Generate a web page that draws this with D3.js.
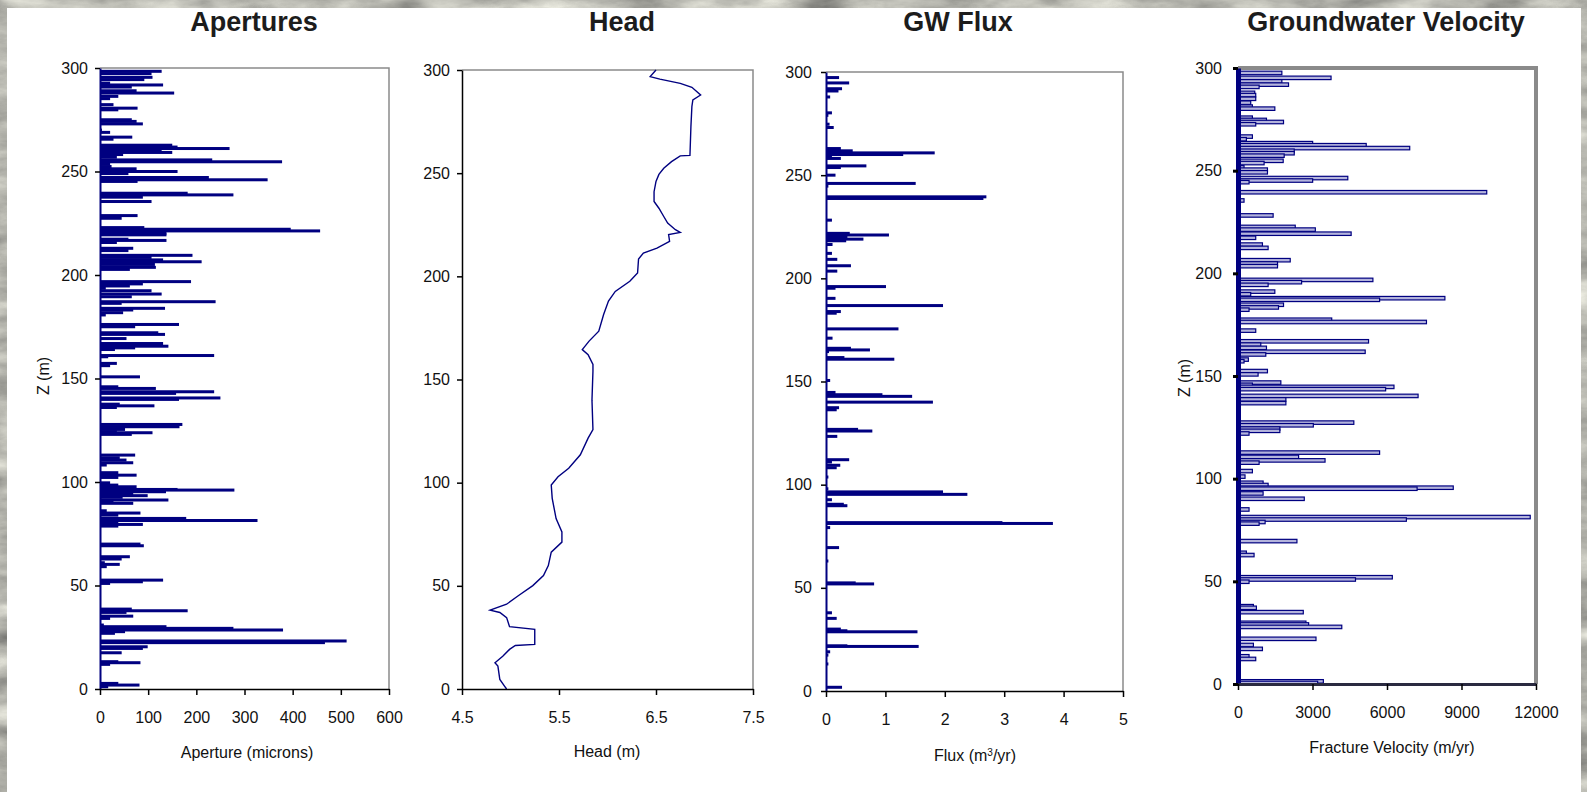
<!DOCTYPE html>
<html>
<head>
<meta charset="utf-8">
<script src="https://cdn.jsdelivr.net/npm/d3@7"></script>
<style>
  body { margin: 0; background: #b4b4ae; }
  svg { display: block; }
  text { font-family: Arial, 'Liberation Sans', sans-serif; }
</style>
</head>
<body>
<svg id="chart" width="1587" height="792"></svg>
<script>
// ---- data: [depth z (m), value] ----
const zTicks = [0, 50, 100, 150, 200, 250, 300];
const apertureTicks = [0, 100, 200, 300, 400, 500, 600];
const headTicks = [4.5, 5.5, 6.5, 7.5];
const fluxTicks = [0, 1, 2, 3, 4, 5];
const velocityTicks = [0, 3000, 6000, 9000, 12000];

const apertures = [
  [298.4,128],[297.3,107],[295.5,109],[294.4,92],[292.7,21],[291.8,131],[290.8,66],[289,76],[287.9,154],[286.3,38],
  [285.2,21],[282.3,28],[280.6,78],[279.8,38],[275,66],[274.2,76],[273,89],[270,4],[268.9,21],[266.6,67],
  [265.6,28],[262.7,150],[261.8,161],[261.1,269],[260.3,128],[259.2,150],[258.2,48],[256.9,35],[255.6,233],[254.7,378],
  [253.6,21],[252.4,24],[251.3,76],[250,161],[249,59],[247.1,226],[246,348],[245.2,78],[239.5,182],[238.7,277],
  [237.6,89],[235.5,107],[228.7,78],[227.4,45],[222.9,92],[222.1,396],[221.3,457],[220.2,138],[219.4,138],[217.3,59],
  [216.7,138],[215.7,35],[212.9,69],[211.8,59],[209.5,192],[208.5,107],[207.3,131],[206.4,211],[205.1,114],[203.7,116],
  [202.7,62],[196.8,189],[195.7,89],[194.7,62],[193.6,12],[192.4,107],[190.8,128],[189.5,66],[187.1,240],[186.3,45],
  [183.9,135],[183.1,69],[181.8,48],[180.7,12],[176.1,164],[175,73],[172.1,121],[171.3,135],[169.3,55],[166.9,131],
  [165.6,142],[164.8,73],[164,31],[161.1,237],[160.5,17],[157.3,35],[156.2,21],[150.8,83],[146,38],[145.2,116],
  [143.6,237],[142.8,158],[140.6,250],[139.9,164],[137.6,41],[136.8,113],[136,35],[127.8,171],[126.7,165],[125.4,52],
  [124.3,35],[123.8,109],[123,66],[113,73],[111.7,41],[110.6,55],[109.3,69],[108.2,14],[104.5,38],[103.3,76],
  [102.2,38],[99.6,21],[98.5,38],[97.7,76],[96.4,161],[96.1,279],[95.3,137],[94.2,69],[93.4,99],[92.6,47],
  [91.3,142],[90.3,28],[89.7,69],[86.1,14],[85,84],[84,38],[82.4,179],[81.4,327],[80.3,38],[79.5,89],
  [78.7,38],[70,84],[69.2,91],[63.9,62],[62.8,45],[61,10],[60.2,41],[59.1,14],[52.6,131],[51.8,89],
  [51,21],[38.6,66],[37.8,182],[37,55],[35.2,69],[34.1,21],[30.9,8],[30.1,138],[29.3,277],[28.5,380],
  [27.7,52],[26.9,31],[23.2,512],[22.4,467],[20.4,99],[19.6,89],[17.5,45],[13.2,38],[12.7,84],[11.9,21],
  [2.7,38],[1.9,82],[1.1,17]
];

const head = [
  [300,6.50],[296.8,6.44],[295.6,6.54],[293.5,6.75],[291.6,6.87],[287.9,6.96],[285.5,6.88],[282.3,6.87],[272.6,6.86],[258.6,6.85],
  [258.4,6.75],[255.6,6.66],[252.4,6.58],[249.4,6.53],[246,6.50],[241,6.48],[236.3,6.48],[233,6.53],[229,6.58],[225.8,6.62],
  [222.6,6.70],[221.3,6.75],[220.2,6.63],[217,6.64],[213.7,6.51],[211.3,6.37],[208.4,6.32],[201.6,6.31],[197.6,6.23],[192.7,6.08],
  [188,6.01],[181.5,5.96],[173.4,5.91],[168.6,5.81],[164.5,5.74],[162,5.80],[157.3,5.85],[154,5.85],[140,5.84],[125.7,5.85],
  [121.6,5.80],[113.5,5.72],[107,5.60],[102.9,5.49],[98.9,5.42],[92.4,5.43],[82.6,5.47],[76.1,5.53],[71.2,5.53],[66.3,5.42],
  [59.8,5.39],[55,5.34],[50.1,5.23],[45.2,5.08],[41.1,4.96],[38.2,4.79],[37.1,4.89],[34.6,4.96],[30.2,4.99],[28.9,5.25],
  [21.6,5.25],[21.1,5.05],[19.2,4.99],[15.9,4.92],[12.7,4.84],[11.1,4.87],[4.6,4.89],[1.3,4.94],[0,4.96]
];

const flux = [
  [297.3,0.22],[294.7,0.39],[291.9,0.27],[290.8,0.21],[287.9,0.07],[280.2,0.10],[279,0.04],[274.7,0.06],[273.1,0.13],[262.9,0.25],
  [261.8,0.45],[260.8,1.83],[260,1.30],[258.9,0.10],[258.1,0.25],[254.5,0.68],[253.7,0.25],[250,0.16],[246,1.51],[244.7,0.04],
  [239.5,2.70],[238.7,2.65],[228.2,0.10],[221.8,0.40],[221,1.06],[219.8,0.36],[219,0.63],[218.2,0.34],[216.4,0.11],[212.1,0.10],
  [209.2,0.19],[206.1,0.42],[203.5,0.19],[196,1.01],[195.2,0.16],[190.3,0.16],[186.8,1.97],[183.9,0.25],[183.1,0.18],[175.5,1.22],
  [171,0.11],[166.1,0.42],[165.3,0.74],[164.5,0.05],[161.6,0.31],[160.8,1.15],[150.5,0.07],[144.7,0.16],[143.6,0.95],[142.8,1.45],
  [140,1.80],[137.3,0.22],[136.3,0.18],[126.8,0.54],[126,0.78],[123.4,0.19],[112.1,0.39],[111,0.10],[109.4,0.24],[108.2,0.18],
  [103.7,0.04],[98,0.04],[96.5,1.97],[95.3,2.38],[92.7,0.10],[90.5,0.30],[89.8,0.36],[81.6,2.97],[81.2,3.82],[79.2,0.07],
  [69.5,0.22],[63,0.04],[52.4,0.50],[51.9,0.81],[37.9,0.10],[35.2,0.18],[30,0.25],[29.2,0.36],[28.7,1.54],[21.9,0.36],
  [21.6,1.56],[19,0.07],[17.4,0.04],[13.1,0.04],[1.8,0.27]
];

const velocity = [
  [297.6,1766],[295.2,3747],[293.5,1766],[291.9,2035],[290.8,850],[287.9,674],[286.8,714],[285,714],[283.1,512],[281.2,580],
  [280.2,1483],[275.8,580],[274.7,1146],[273.7,1833],[272.6,714],[266.6,580],[265.3,337],[263.4,3006],[262.4,5163],[261,6915],
  [259.7,2265],[258.5,2265],[257.3,1860],[254.8,1820],[253.7,1051],[251.6,243],[250.5,1186],[249.2,1186],[246.4,4421],[245.2,3006],
  [244.4,445],[239.5,10016],[235.5,243],[228.2,1415],[222.6,2305],[221.3,3114],[219.3,4556],[217.3,714],[214,984],[212.4,1213],
  [206.4,2103],[204.8,1591],[203.5,1591],[196.8,5432],[195.7,2561],[194.4,1213],[191.1,1483],[189.8,512],[187.9,8331],[187.1,5702],
  [184.7,1833],[183.4,1631],[182.3,445],[177.4,3774],[176.3,7589],[172.1,714],[166.9,5257],[165.3,917],[163.7,1146],[161.8,5122],
  [160.5,1119],[158,418],[157.2,243],[152.4,1186],[150.8,809],[146.8,1725],[145.7,580],[144.7,6281],[143.6,5945],[140.3,7252],
  [138.6,1928],[136.8,1928],[127.3,4664],[126,3033],[124.4,1685],[123.3,1685],[122,445],[112.7,5702],[110.6,2440],[108.9,3505],
  [107.8,850],[103.7,580],[101,283],[98,1011],[96.9,1213],[95.6,8668],[95.1,7212],[92.8,1011],[90.2,2669],[85,445],
  [81.3,11768],[80.1,6780],[78.9,1092],[78.1,850],[69.6,2373],[63.9,337],[62.8,647],[52,6214],[50.9,4731],[49.8,445],
  [37.9,620],[37.1,741],[35,2629],[29.8,2736],[29,2844],[27.8,4179],[22,3141],[19,620],[17.1,984],[13.5,445],
  [12.2,714],[1.3,3437],[0.5,3208]
];

const navy = '#000080';
const svg = d3.select('#chart');

// marble-ish backdrop and the white slide
const defs = svg.append('defs');
const marble = defs.append('filter').attr('id', 'marble')
  .attr('x', 0).attr('y', 0).attr('width', '100%').attr('height', '100%')
  .attr('color-interpolation-filters', 'sRGB');
marble.append('feTurbulence').attr('type', 'fractalNoise')
  .attr('baseFrequency', '0.015 0.04').attr('numOctaves', 5).attr('seed', 7);
marble.append('feColorMatrix').attr('type', 'matrix')
  .attr('values', '0.34 0.34 0.34 0 0.2  0.34 0.34 0.34 0 0.2  0.32 0.32 0.32 0 0.2  0 0 0 0 1');
svg.append('rect').attr('width', 1587).attr('height', 792).attr('filter', 'url(#marble)');
svg.append('rect').attr('x', 7).attr('y', 8).attr('width', 1574).attr('height', 784).attr('fill', 'white');

function drawPanel(p) {
  const x = d3.scaleLinear().domain(p.domain).range([p.left, p.right]);
  const y = d3.scaleLinear().domain([0, 300]).range([p.bottom, p.top]);
  const g = svg.append('g');

  // grey frame on top and right
  g.append('path')
    .attr('d', `M${p.left},${p.top}H${p.right}V${p.bottom}`)
    .attr('fill', 'none')
    .attr('stroke', '#8a8a8a')
    .attr('stroke-width', p.frameWidth);

  if (p.bars) {
    g.append('g')
      .selectAll('rect')
      .data(p.bars)
      .join('rect')
      .attr('x', x(p.domain[0]))
      .attr('y', (d) => y(d[0]) - p.barH / 2)
      .attr('width', (d) => x(d[1]) - x(p.domain[0]))
      .attr('height', p.barH)
      .attr('fill', p.barFill)
      .attr('stroke', p.barStroke ? navy : 'none')
      .attr('stroke-width', 1.2);
  }

  if (p.line) {
    const line = d3.line().x((d) => x(d[1])).y((d) => y(d[0]));
    g.append('path')
      .datum(p.line)
      .attr('d', line)
      .attr('fill', 'none')
      .attr('stroke', navy)
      .attr('stroke-width', 1.4);
  }

  const yAxis = g.append('g')
    .attr('transform', `translate(${p.left},0)`)
    .call(d3.axisLeft(y).tickValues(zTicks).tickSize(5).tickSizeOuter(0).tickPadding(p.yPad));
  yAxis.select('.domain').attr('stroke', p.bars ? navy : '#000').attr('stroke-width', p.axisWidth);
  yAxis.selectAll('.tick line').attr('stroke', '#000').attr('stroke-width', p.tickWidth);

  const xAxis = g.append('g')
    .attr('transform', `translate(0,${p.bottom})`)
    .call(d3.axisBottom(x).tickValues(p.ticks).tickFormat(p.fmt).tickSize(6).tickSizeOuter(0).tickPadding(17));
  xAxis.select('.domain').attr('stroke', p.bottomColor).attr('stroke-width', p.bottomWidth);
  xAxis.selectAll('.tick line').attr('stroke', '#000').attr('stroke-width', 1.5);

  [yAxis, xAxis].forEach((a) => {
    a.attr('font-size', 16).attr('font-family', "Arial, 'Liberation Sans', sans-serif");
    a.selectAll('text').attr('fill', '#111');
  });

  svg.append('text')
    .attr('x', p.titleX).attr('y', 31)
    .attr('text-anchor', 'middle')
    .style('font-size', '27px').style('font-weight', 'bold').style('fill', '#1c1c1c')
    .text(p.title);

  const lab = svg.append('text')
    .attr('x', p.labelX).attr('y', p.labelY)
    .attr('text-anchor', 'middle')
    .style('font-size', '16px').style('fill', '#111');
  if (p.labelSup) {
    lab.append('tspan').text(p.label[0]);
    lab.append('tspan').attr('baseline-shift', 'super').style('font-size', '10px').text(p.labelSup);
    lab.append('tspan').text(p.label[1]);
  } else {
    lab.text(p.label);
  }

  if (p.zLabelX) {
    svg.append('text')
      .attr('transform', `translate(${p.zLabelX},${p.zLabelY}) rotate(-90)`)
      .attr('text-anchor', 'middle')
      .style('font-size', '16px').style('fill', '#111')
      .text('Z (m)');
  }
}

drawPanel({
  title: 'Apertures', titleX: 254,
  left: 100, right: 389, top: 68, bottom: 689,
  domain: [0, 600], ticks: apertureTicks, fmt: d3.format('d'),
  bars: apertures, barH: 3, barFill: navy, barStroke: false,
  yPad: 7, axisWidth: 2, tickWidth: 1.5, frameWidth: 1.5,
  bottomColor: '#000', bottomWidth: 1.5,
  label: 'Aperture (microns)', labelX: 247, labelY: 758,
  zLabelX: 49, zLabelY: 376
});

drawPanel({
  title: 'Head', titleX: 622,
  left: 462, right: 753, top: 70, bottom: 689,
  domain: [4.5, 7.5], ticks: headTicks, fmt: d3.format('.1f'),
  line: head,
  yPad: 7, axisWidth: 1.5, tickWidth: 1.5, frameWidth: 1.5,
  bottomColor: '#000', bottomWidth: 1.5,
  label: 'Head (m)', labelX: 607, labelY: 757
});

drawPanel({
  title: 'GW Flux', titleX: 958,
  left: 826, right: 1123, top: 72, bottom: 691,
  domain: [0, 5], ticks: fluxTicks, fmt: d3.format('d'),
  bars: flux, barH: 3, barFill: navy, barStroke: false,
  yPad: 9, axisWidth: 2, tickWidth: 1.5, frameWidth: 1.5,
  bottomColor: '#000', bottomWidth: 1.5,
  label: ['Flux (m', '/yr)'], labelSup: '3', labelX: 975, labelY: 761
});

drawPanel({
  title: 'Groundwater Velocity', titleX: 1386,
  left: 1238, right: 1536, top: 68, bottom: 684,
  domain: [0, 12000], ticks: velocityTicks, fmt: d3.format('d'),
  bars: velocity, barH: 3.5, barFill: '#b4b4dc', barStroke: true,
  yPad: 11, axisWidth: 5, tickWidth: 3, frameWidth: 4,
  bottomColor: '#2a2a40', bottomWidth: 3,
  label: 'Fracture Velocity (m/yr)', labelX: 1392, labelY: 753,
  zLabelX: 1190, zLabelY: 378
});
</script>
</body>
</html>
